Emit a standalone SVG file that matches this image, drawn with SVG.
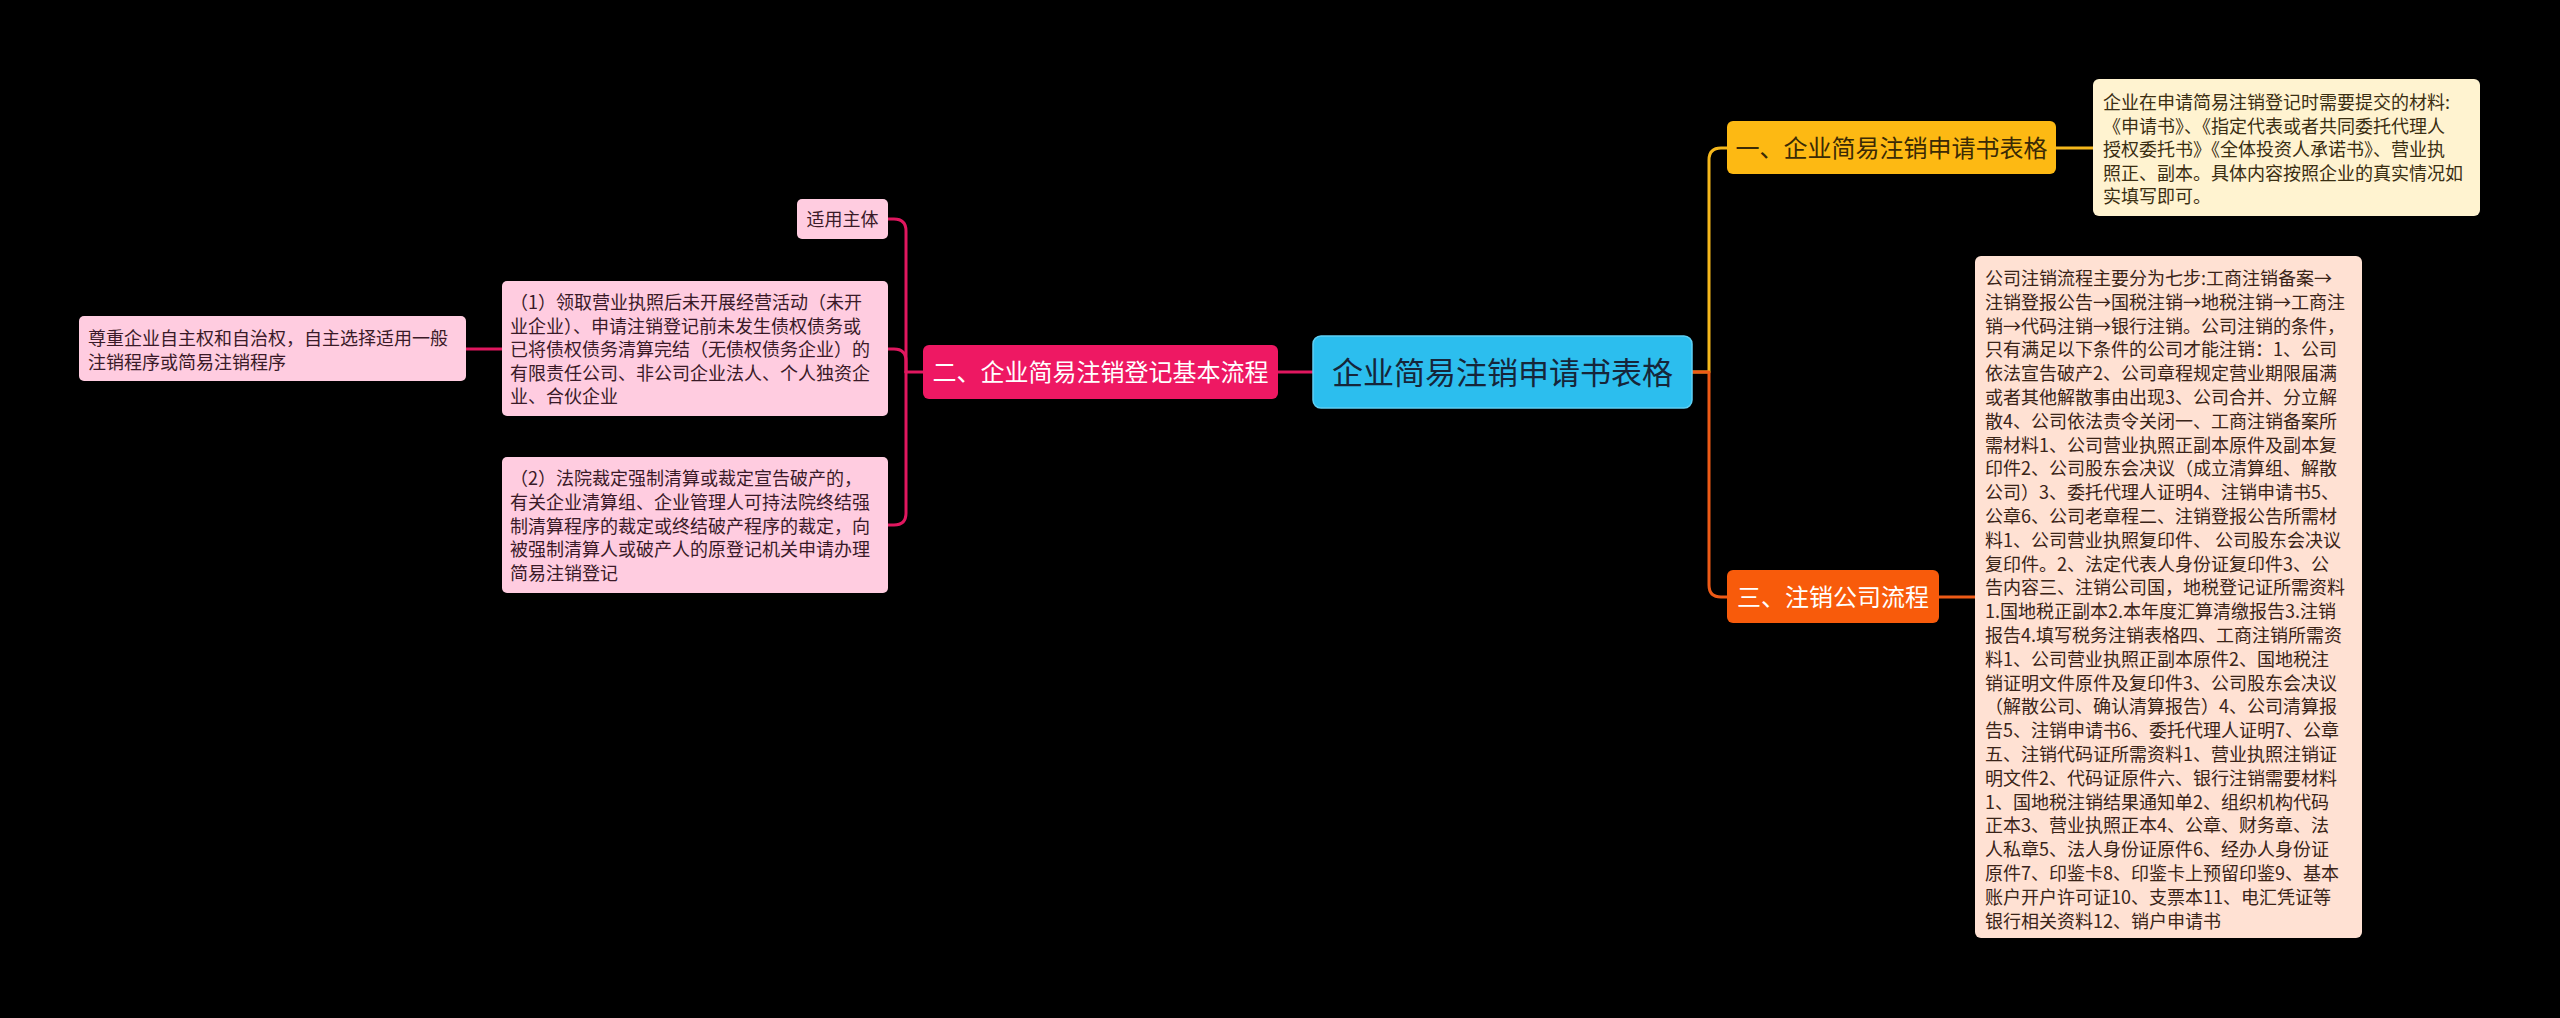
<svg xmlns="http://www.w3.org/2000/svg" width="2560" height="1018" viewBox="0 0 2560 1018">
<style>
text{font-family:"Noto Sans CJK SC","Noto Sans",sans-serif;}
.c{fill:none;stroke-width:3;stroke-linecap:round;stroke-linejoin:round}
.y{stroke:#F5B81C}.o{stroke:#EE5A16}.p{stroke:#E0175F}
.t18{font-size:18px}
.t24{font-size:24px}
.mid{text-anchor:middle}
</style>
<rect width="2560" height="1018" fill="#000"/>
<g id="connectors">
<path class="c y" d="M1692,372 H1709 V160 Q1709,148 1721,148 H1727"/>
<path class="c o" d="M1692,372 H1709 V585 Q1709,597 1721,597 H1727"/>
<path class="c y" d="M2056,148 H2093"/>
<path class="c o" d="M1939,597 H1975"/>
<path class="c p" d="M1313,372 H1278"/>
<path class="c p" d="M923,372 H906"/>
<path class="c p" d="M906,372 V231 Q906,219 894,219 H888"/>
<path class="c p" d="M906,372 V361 Q906,349 894,349 H888"/>
<path class="c p" d="M906,372 V513 Q906,525 894,525 H888"/>
<path class="c p" d="M502,349 H466"/>
</g>
<g id="root">
<rect x="1313" y="336" width="379" height="72" rx="8" fill="#2CBEEE" stroke="#5FD0F5" stroke-width="1.5"/>
<text x="1502.5" y="384" class="mid" font-size="31" fill="#16263A">企业简易注销申请书表格</text>
</g>
<g id="n1">
<rect x="1727" y="121" width="329" height="53" rx="6" fill="#FDB913"/>
<text x="1891.5" y="157" class="mid t24" fill="#3A2A05">一、企业简易注销申请书表格</text>
</g>
<g id="n1a">
<rect x="2093" y="79" width="387" height="137" rx="6" fill="#FFF3D0"/>
<text class="t18" fill="#3A2E12">
<tspan x="2103" y="109">企业在申请简易注销登记时需要提交的材料:</tspan>
<tspan x="2103" y="132.5">《申请书》、《指定代表或者共同委托代理人</tspan>
<tspan x="2103" y="156">授权委托书》《全体投资人承诺书》、营业执</tspan>
<tspan x="2103" y="179.5">照正、副本。具体内容按照企业的真实情况如</tspan>
<tspan x="2103" y="203">实填写即可。</tspan>
</text>
</g>
<g id="n3">
<rect x="1727" y="570" width="212" height="53" rx="6" fill="#F85B0B"/>
<text x="1833" y="606" class="mid t24" fill="#FFFFFF">三、注销公司流程</text>
</g>
<g id="n3a">
<rect x="1975" y="256" width="387" height="682" rx="6" fill="#FFE1D3"/>
<text class="t18" fill="#3A2418">
<tspan x="1985" y="285">公司注销流程主要分为七步:工商注销备案→</tspan>
<tspan x="1985" y="308.8">注销登报公告→国税注销→地税注销→工商注</tspan>
<tspan x="1985" y="332.6">销→代码注销→银行注销。公司注销的条件，</tspan>
<tspan x="1985" y="356.4">只有满足以下条件的公司才能注销：1、公司</tspan>
<tspan x="1985" y="380.2">依法宣告破产2、公司章程规定营业期限届满</tspan>
<tspan x="1985" y="404">或者其他解散事由出现3、公司合并、分立解</tspan>
<tspan x="1985" y="427.8">散4、公司依法责令关闭一、工商注销备案所</tspan>
<tspan x="1985" y="451.6">需材料1、公司营业执照正副本原件及副本复</tspan>
<tspan x="1985" y="475.4">印件2、公司股东会决议（成立清算组、解散</tspan>
<tspan x="1985" y="499.2">公司）3、委托代理人证明4、注销申请书5、</tspan>
<tspan x="1985" y="523">公章6、公司老章程二、注销登报公告所需材</tspan>
<tspan x="1985" y="546.8">料1、公司营业执照复印件、 公司股东会决议</tspan>
<tspan x="1985" y="570.6">复印件。2、法定代表人身份证复印件3、公</tspan>
<tspan x="1985" y="594.4">告内容三、注销公司国，地税登记证所需资料</tspan>
<tspan x="1985" y="618.2">1.国地税正副本2.本年度汇算清缴报告3.注销</tspan>
<tspan x="1985" y="642">报告4.填写税务注销表格四、工商注销所需资</tspan>
<tspan x="1985" y="665.8">料1、公司营业执照正副本原件2、国地税注</tspan>
<tspan x="1985" y="689.6">销证明文件原件及复印件3、公司股东会决议</tspan>
<tspan x="1985" y="713.4">（解散公司、确认清算报告）4、公司清算报</tspan>
<tspan x="1985" y="737.2">告5、注销申请书6、委托代理人证明7、公章</tspan>
<tspan x="1985" y="761">五、注销代码证所需资料1、营业执照注销证</tspan>
<tspan x="1985" y="784.8">明文件2、代码证原件六、银行注销需要材料</tspan>
<tspan x="1985" y="808.6">1、国地税注销结果通知单2、组织机构代码</tspan>
<tspan x="1985" y="832.4">正本3、营业执照正本4、公章、财务章、法</tspan>
<tspan x="1985" y="856.2">人私章5、法人身份证原件6、经办人身份证</tspan>
<tspan x="1985" y="880">原件7、印鉴卡8、印鉴卡上预留印鉴9、基本</tspan>
<tspan x="1985" y="903.8">账户开户许可证10、支票本11、电汇凭证等</tspan>
<tspan x="1985" y="927.6">银行相关资料12、销户申请书</tspan>
</text>
</g>
<g id="n2">
<rect x="923" y="345" width="355" height="54" rx="6" fill="#EE1863"/>
<text x="1100.5" y="381" class="mid t24" fill="#FFFFFF">二、企业简易注销登记基本流程</text>
</g>
<g id="n2a">
<rect x="797" y="199" width="91" height="40" rx="5" fill="#FFCCE0"/>
<text x="842.5" y="226" class="mid t18" fill="#3A1A28">适用主体</text>
</g>
<g id="n2b">
<rect x="502" y="281" width="386" height="135" rx="5" fill="#FFCCE0"/>
<text class="t18" fill="#3A1A28">
<tspan x="510" y="309">（1）领取营业执照后未开展经营活动（未开</tspan>
<tspan x="510" y="332.5">业企业）、申请注销登记前未发生债权债务或</tspan>
<tspan x="510" y="356">已将债权债务清算完结（无债权债务企业）的</tspan>
<tspan x="510" y="379.5">有限责任公司、非公司企业法人、个人独资企</tspan>
<tspan x="510" y="403">业、合伙企业</tspan>
</text>
</g>
<g id="n2c">
<rect x="502" y="457" width="386" height="136" rx="5" fill="#FFCCE0"/>
<text class="t18" fill="#3A1A28">
<tspan x="510" y="485">（2）法院裁定强制清算或裁定宣告破产的，</tspan>
<tspan x="510" y="508.8">有关企业清算组、企业管理人可持法院终结强</tspan>
<tspan x="510" y="532.6">制清算程序的裁定或终结破产程序的裁定，向</tspan>
<tspan x="510" y="556.4">被强制清算人或破产人的原登记机关申请办理</tspan>
<tspan x="510" y="580.2">简易注销登记</tspan>
</text>
</g>
<g id="n2b1">
<rect x="79" y="316" width="387" height="65" rx="5" fill="#FFCCE0"/>
<text class="t18" fill="#3A1A28">
<tspan x="88" y="345">尊重企业自主权和自治权，自主选择适用一般</tspan>
<tspan x="88" y="369">注销程序或简易注销程序</tspan>
</text>
</g>
</svg>
